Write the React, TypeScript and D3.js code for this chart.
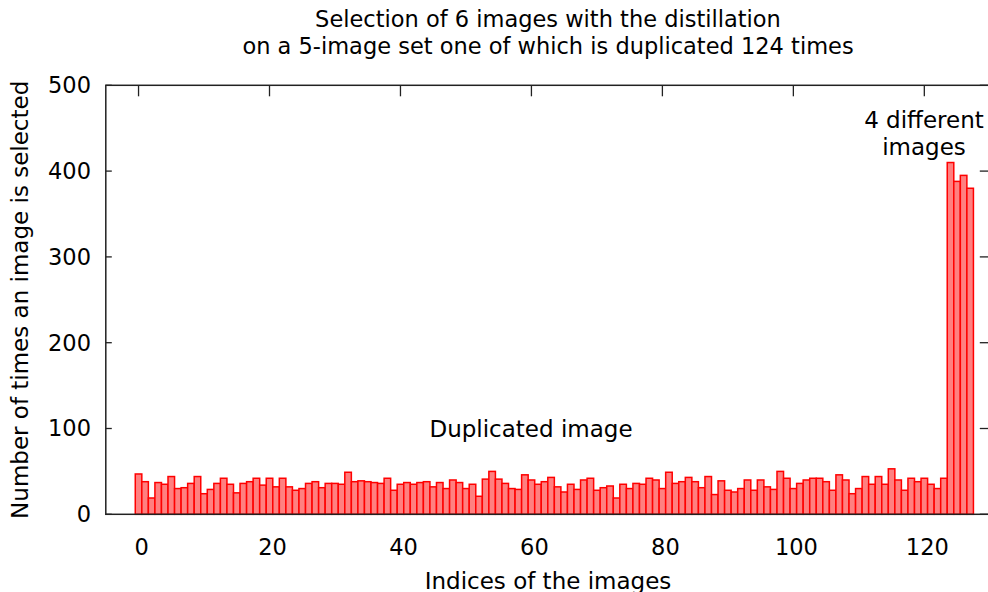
import React from 'react';
import * as d3 from 'd3';

// counts for the 124 copies of the duplicated image (indices 0..123)
const duplicatedCounts = [
    47, 38, 19, 37, 35, 44, 30, 31, 36, 44,
    24, 29, 36, 42, 35, 25, 36, 38, 42, 34,
    42, 32, 42, 32, 28, 30, 36, 38, 31, 36,
    36, 35, 49, 38, 39, 38, 37, 36, 42, 28,
    35, 37, 35, 37, 38, 32, 37, 30, 40, 37,
    30, 35, 21, 41, 50, 41, 36, 30, 29, 46,
    40, 35, 38, 43, 32, 26, 35, 29, 40, 42,
    28, 31, 33, 19, 35, 30, 36, 35, 42, 40,
    30, 49, 36, 38, 43, 38, 31, 44, 23, 39,
    28, 26, 30, 40, 28, 40, 32, 29, 50, 42,
    30, 36, 40, 42, 42, 38, 28, 46, 40, 24,
    30, 44, 35, 44, 35, 53, 40, 28, 42, 38,
    42, 35, 30, 42
];
// counts for the 4 different images (indices 124..127)
const distinctCounts = [410, 388, 395, 380];

const xTicks = [0, 20, 40, 60, 80, 100, 120];
const yTicks = [0, 100, 200, 300, 400, 500];

const titleLines = [
    'Selection of 6 images with the distillation',
    'on a 5-image set one of which is duplicated 124 times'
];

const width = 988;
const height = 592;
const font = 'DejaVu Sans, sans-serif';
const fs = 22.5;

const App = () => {
    const counts = [...duplicatedCounts, ...distinctCounts];

    const x = d3.scaleLinear().domain([-5, 130]).range([105.8, 989.8]);
    const y = d3.scaleLinear().domain([0, 500]).range([514.3, 85.3]);

    const [x0, x1] = x.range();
    const [y0, y1] = y.range();

    return (
        <svg width={width} height={height} style={{ position: 'absolute', left: 0, top: 0, background: '#fff' }}
            fontFamily={font}>
            {/* title */}
            {titleLines.map((t, i) => (
                <text key={i} x={548} y={27 + i * 27} textAnchor="middle" fontSize={fs} fill="#000">{t}</text>
            ))}

            {/* bars */}
            {counts.map((c, i) => (
                <rect key={i}
                    x={x(i - 0.5)} y={y(c)}
                    width={x(i + 0.5) - x(i - 0.5)} height={y(0) - y(c)}
                    fill="#ff8080" stroke="#ff0000" strokeWidth={1.5} />
            ))}

            {/* ticks */}
            {xTicks.map(t => (
                <g key={t}>
                    <line x1={x(t)} x2={x(t)} y1={y1} y2={y1 + 11} stroke="#222" strokeWidth={1.3} />
                    <text x={x(t) + 3} y={555} textAnchor="middle" fontSize={fs} fill="#000">{t}</text>
                </g>
            ))}
            {yTicks.map(t => (
                <g key={t}>
                    <line x1={x0} x2={x0 + 6} y1={y(t)} y2={y(t)} stroke="#222" strokeWidth={1.3} />
                    <line x1={x1 - 10} x2={x1} y1={y(t)} y2={y(t)} stroke="#222" strokeWidth={1.3} />
                    <text x={91} y={y(t)} dy="0.35em" textAnchor="end" fontSize={fs} fill="#000">{t}</text>
                </g>
            ))}

            {/* border */}
            <rect x={x0} y={y1} width={x1 - x0} height={y0 - y1} fill="none" stroke="#222" strokeWidth={1.5} />

            {/* axis labels */}
            <text x={548} y={589} textAnchor="middle" fontSize={23} fill="#000">Indices of the images</text>
            <text transform={`translate(28, ${(y0 + y1) / 2}) rotate(-90)`} textAnchor="middle" fontSize={23} fill="#000">
                Number of times an image is selected
            </text>

            {/* annotations */}
            <text x={531} y={437} textAnchor="middle" fontSize={23} fill="#000">Duplicated image</text>
            <text x={924} y={128} textAnchor="middle" fontSize={23} fill="#000">4 different</text>
            <text x={924} y={155} textAnchor="middle" fontSize={23} fill="#000">images</text>
        </svg>
    );
};

export default App;
